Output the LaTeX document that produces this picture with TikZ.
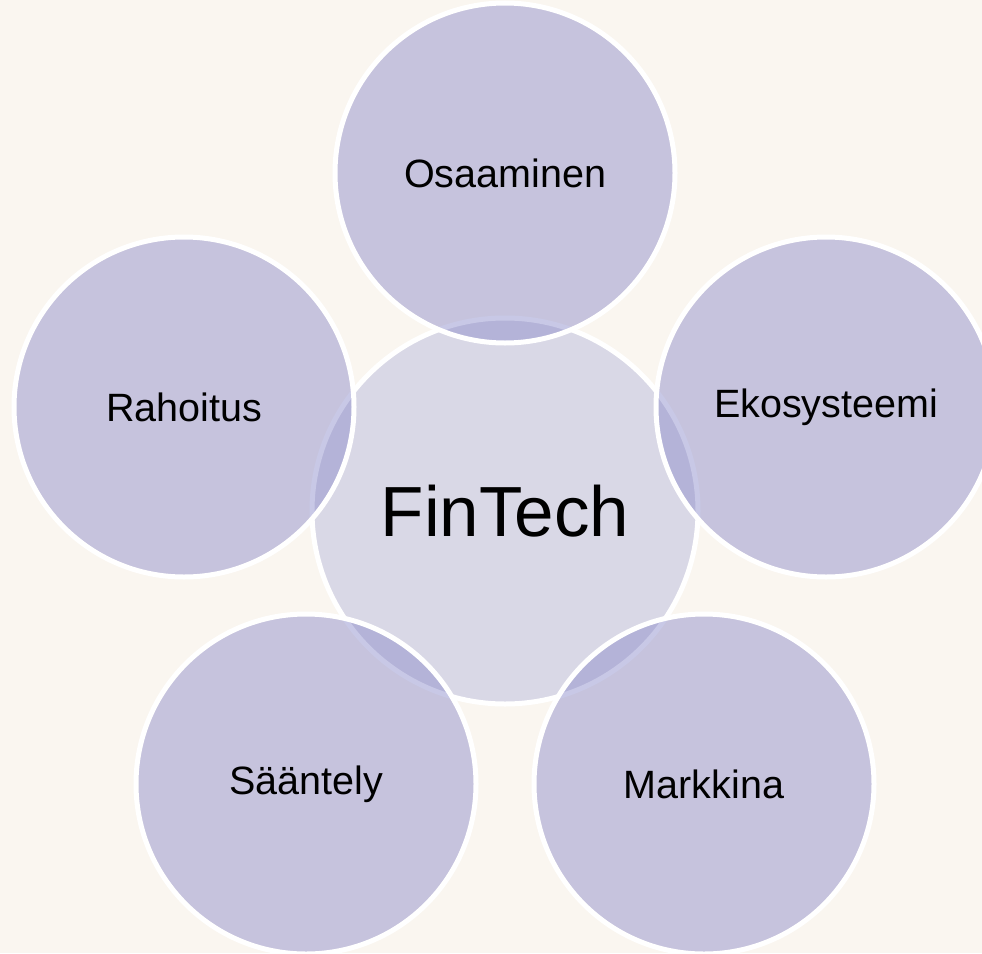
\documentclass[tikz,border=0pt]{standalone}
\usepackage{fontspec}
\setmainfont{Liberation Sans}
\usetikzlibrary{calc}
\definecolor{bgc}{RGB}{250,246,240}
\definecolor{hubfill}{RGB}{217,216,230}
\definecolor{satfill}{RGB}{135,135,200}
\begin{document}
\begin{tikzpicture}[x=1pt,y=-1pt,
  hub/.style={circle,draw=white,line width=5pt,fill=hubfill,minimum size=386pt,inner sep=0pt,
    font=\fontsize{71}{80}\selectfont},
  sat/.style={circle,draw=white,line width=5pt,fill=satfill,fill opacity=0.45,text opacity=1,
    minimum size=340pt,inner sep=0pt,font=\fontsize{39.5}{46}\selectfont}]
\fill[bgc] (0,0) rectangle (982,953);
\useasboundingbox (0,0) rectangle (982,953);
\coordinate (c) at (505,511);
\node[hub] (fintech) at (c) {FinTech};
\node[sat] (osaaminen) at ($(c)+(0,-338)$) {Osaaminen};
\node[sat] (ekosysteemi) at ($(c)+(321,-104)$) {Ekosysteemi};
\node[sat] (markkina) at ($(c)+(199,273)$) {Markkina};
\node[sat] (saantely) at ($(c)+(-199,273)$) {Sääntely};
\node[sat] (rahoitus) at ($(c)+(-321,-104)$) {Rahoitus};
\end{tikzpicture}
\end{document}
